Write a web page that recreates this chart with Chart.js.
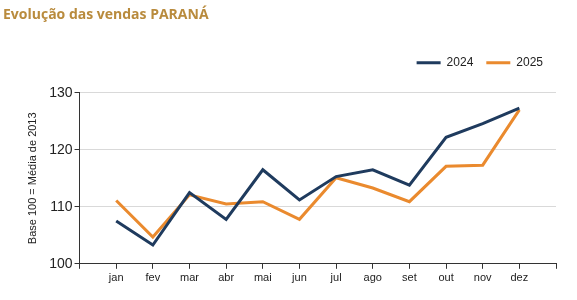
<!DOCTYPE html>
<html>
<head>
<meta charset="utf-8">
<script src="https://cdn.jsdelivr.net/npm/chart.js@4/dist/chart.umd.min.js"></script>
<style>
    html, body { margin: 0; padding: 0; background: #ffffff; }
    #wrap { position: relative; width: 577px; height: 300px; }
</style>
</head>
<body>
<div id="wrap">
    <canvas id="salesChart" width="577" height="300"></canvas>
</div>
<script>

const months = ["jan", "fev", "mar", "abr", "mai", "jun", "jul", "ago", "set", "out", "nov", "dez"];

const sales2024 = [107.5, 103.3, 112.5, 107.8, 116.5, 111.2, 115.3, 116.5, 113.8, 122.2, 124.6, 127.3];

const sales2025 = [111.1, 104.7, 112.1, 110.5, 110.9, 107.8, 115.1, 113.3, 110.9, 117.1, 117.3, 127.0];

const yTicks = [100, 110, 120, 130];

function toPoints(values) {

    return values.map((v, i) => ({ x: i + 1, y: v }));

}

const axisColor = "#333333";

// extra room below the legend, like the original
const legendSpacer = {
    id: "legendSpacer",
    beforeInit(chart) {
        const fit = chart.legend.fit;
        chart.legend.fit = function() {
            fit.bind(chart.legend)();
            this.height += 14;
        };
    }
};

new Chart(document.getElementById("salesChart"), {

    type: "line",

    data: {

        datasets: [
            {
                label: "2024",
                data: toPoints(sales2024),
                borderColor: "#1f3b5e",
                backgroundColor: "#1f3b5e",
                borderWidth: 3,
                pointRadius: 0,
                tension: 0
            },
            {
                label: "2025",
                data: toPoints(sales2025),
                borderColor: "#ea8a2e",
                backgroundColor: "#ea8a2e",
                borderWidth: 3,
                pointRadius: 0,
                tension: 0
            }
        ]

    },

    options: {

        responsive: false,
        animation: false,

        layout: {
            padding: { left: 3, right: 21, top: 7, bottom: 12 }
        },

        plugins: {

            title: {
                display: true,
                text: "Evolução das vendas PARANÁ",
                align: "start",
                color: "#b98b3d",
                font: { family: "Open Sans", size: 14, weight: "bold" },
                padding: { top: 0, bottom: 20 }
            },

            legend: {
                position: "top",
                align: "end",
                labels: {
                    usePointStyle: true,
                    pointStyle: "line",
                    pointStyleWidth: 24,
                    boxHeight: 12,
                    color: "#222222",
                    font: { family: "Liberation Sans", size: 12 },
                    padding: 13
                }
            },

            tooltip: { enabled: false }

        },

        scales: {

            x: {
                type: "linear",
                min: 0,
                max: 13,
                grid: {
                    drawOnChartArea: false,
                    drawTicks: true,
                    tickLength: 5,
                    tickColor: axisColor
                },
                border: { color: axisColor, width: 1 },
                ticks: {
                    stepSize: 1,
                    autoSkip: false,
                    maxRotation: 0,
                    color: "#222222",
                    font: { family: "Liberation Sans", size: 11 },
                    callback: function(value) {
                        return months[value - 1] || "";
                    }
                }
            },

            y: {
                min: yTicks[0],
                max: yTicks[yTicks.length - 1],
                afterBuildTicks: function(axis) {
                    axis.ticks = yTicks.map(v => ({ value: v }));
                },
                grid: {
                    color: "#d9d9d9",
                    tickColor: axisColor,
                    tickLength: 5
                },
                border: { color: axisColor, width: 1 },
                ticks: {
                    color: "#222222",
                    padding: 2,
                    font: { family: "Liberation Sans", size: 14 }
                },
                title: {
                    display: true,
                    text: "Base 100 = Média de 2013",
                    color: "#222222",
                    font: { family: "Liberation Sans", size: 11 },
                    padding: { top: 23, bottom: 8 }
                }
            }

        }

    },

    plugins: [legendSpacer]

});

</script>
</body>
</html>
